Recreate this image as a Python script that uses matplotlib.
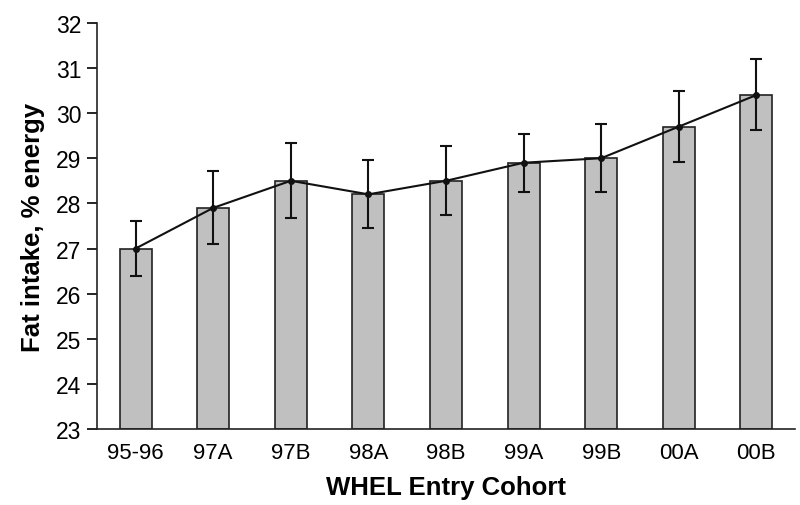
import matplotlib
matplotlib.use('Agg')
import matplotlib.pyplot as plt

plt.rcParams['font.family'] = ['Liberation Sans', 'DejaVu Sans']

cohorts = ['95-96', '97A', '97B', '98A', '98B', '99A', '99B', '00A', '00B']
fat_intake = [27.0, 27.9, 28.5, 28.2, 28.5, 28.9, 29.0, 29.7, 30.4]
err_low = [0.61, 0.8, 0.82, 0.75, 0.76, 0.64, 0.75, 0.79, 0.77]
err_high = [0.61, 0.81, 0.83, 0.76, 0.78, 0.64, 0.76, 0.8, 0.79]

fig = plt.figure(figsize=(8, 5.06), dpi=100)
ax = fig.add_axes([0.121, 0.150, 0.873, 0.803])

x = range(len(cohorts))
ax.bar(x, [v - 23 for v in fat_intake], bottom=23, width=0.41,
       color='#c0c0c0', edgecolor='#222222', linewidth=1.2, zorder=1)
ax.errorbar(x, fat_intake, yerr=[err_low, err_high], fmt='o-', color='#111111',
            markersize=4, linewidth=1.5, elinewidth=1.5, capsize=4, capthick=1.5,
            zorder=3)

ax.set_xlim(-0.5, len(cohorts) - 0.5)
ax.set_ylim(23, 32)
ax.set_yticks(range(23, 33))
ax.set_xticks(list(x))
ax.set_xticklabels(cohorts)
ax.tick_params(axis='x', length=0, labelsize=16, pad=9)
ax.tick_params(axis='y', direction='out', length=7, width=1.2, labelsize=16.5, pad=4)

for side in ['top', 'right']:
    ax.spines[side].set_visible(False)
for side in ['left', 'bottom']:
    ax.spines[side].set_linewidth(1.2)
    ax.spines[side].set_color('#222222')

ax.set_xlabel('WHEL Entry Cohort', fontsize=18.5, fontweight='bold', labelpad=9)
ax.set_ylabel('Fat intake, % energy', fontsize=18.5, fontweight='bold', labelpad=8)

plt.savefig('out.png', dpi=100)
